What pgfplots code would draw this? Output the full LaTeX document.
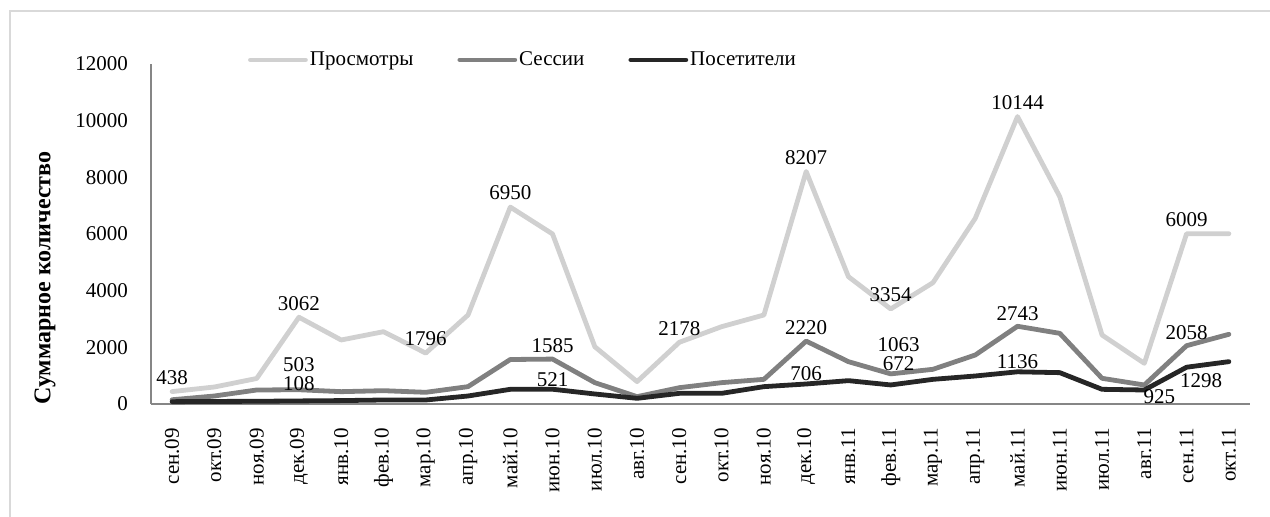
\documentclass[border=0pt]{standalone}
\usepackage{pgfplots}
\pgfplotsset{compat=1.18}
\usepackage{pgfplotstable}
\usepackage{fontspec}
\setmainfont{Liberation Serif}
\definecolor{cview}{RGB}{208,208,208}
\definecolor{csess}{RGB}{128,128,128}
\definecolor{cvis}{RGB}{38,38,38}
\definecolor{caxis}{RGB}{134,134,134}
\definecolor{cborder}{RGB}{217,217,217}

\pgfplotstableread{
x p pl s sl v vl
0 438 438 150 {} 82 {}
1 600 {} 282 {} 90 {}
2 900 {} 494 {} 95 {}
3 3062 3062 503 {} 108 {}
4 2259 {} 435 {} 120 {}
5 2552 {} 470 {} 141 {}
6 1796 1796 412 {} 141 {}
7 3141 {} 612 {} 282 {}
8 6950 6950 1570 {} 518 {}
9 6000 {} 1585 1585 521 521
10 2020 {} 753 {} 353 {}
11 790 {} 259 {} 200 {}
12 2178 2178 576 {} 376 {}
13 2729 {} 753 {} 376 {}
14 3141 {} 870 {} 612 {}
15 8207 8207 2220 2220 706 706
16 4493 {} 1494 {} 824 {}
17 3354 3354 1063 {} 672 {}
18 4282 {} 1224 {} 870 {}
19 6553 {} 1729 {} 988 {}
20 10144 10144 2743 2743 1136 1136
21 7316 {} 2494 {} 1106 {}
22 2435 {} 906 {} 518 {}
23 1435 {} 670 {} 494 {}
24 6009 6009 2058 2058 1298 {}
25 6009 {} 2459 {} 1494 {}
}\data

\begin{document}
\begin{tikzpicture}[font=\fontsize{10.5}{12.6}\selectfont]
\useasboundingbox (-75.5pt,-56.5pt) rectangle (559.5pt,202pt);
\draw[cborder, line width=0.9pt] (-70.5pt,-80pt) rectangle (562pt,196.5pt);
\begin{axis}[
  at={(0pt,0pt)}, anchor=south west,
  scale only axis,
  width=549.5pt, height=170pt,
  xmin=-0.5, xmax=25.5,
  ymin=0, ymax=12000,
  ytick={0,2000,4000,6000,8000,10000,12000},
  yticklabels={0,2000,4000,6000,8000,10000,12000},
  xtick={0,...,25},
  xticklabels={сен.09,окт.09,ноя.09,дек.09,янв.10,фев.10,мар.10,апр.10,май.10,июн.10,июл.10,авг.10,сен.10,окт.10,ноя.10,дек.10,янв.11,фев.11,мар.11,апр.11,май.11,июн.11,июл.11,авг.11,сен.11,окт.11},
  axis x line*=bottom, axis y line*=left,
  axis line style={caxis, line width=0.8pt, -},
  major tick length=0pt,
  xticklabel style={rotate=90, anchor=east, font=\fontsize{10.5}{12.6}\selectfont},
  xticklabel shift=8.5pt,
  yticklabel style={anchor=east, font=\fontsize{10.5}{12.6}\selectfont},
  yticklabel shift=8pt,
  /pgf/number format/assume math mode=true,
  /pgf/number format/1000 sep={},
  scaled y ticks=false,
  ylabel={\bfseries Суммарное количество},
  ylabel style={at={(axis description cs:-0.0965,0.37)}, anchor=center, font=\fontsize{12}{14}\selectfont},
  clip=false,
  legend style={at={(axis description cs:0.3385,1.012)}, anchor=center, draw=none, fill=none,
    legend columns=3, font=\fontsize{10.5}{12.6}\selectfont,
    /tikz/every odd column/.append style={column sep=0pt},
    /tikz/every even column/.append style={column sep=21pt},
    nodes={inner sep=1pt}},
  legend cell align=left,
  legend image code/.code={\draw[#1, line cap=round] (0pt,0pt) -- (27.5pt,0pt);},
  every axis plot/.append style={line width=2.4pt, line join=round, line cap=round, mark=none},
  nodes near coords,
  point meta=explicit symbolic,
  nodes near coords style={anchor=center, font=\fontsize{10.5}{12.6}\selectfont, text=black, inner sep=0pt},
]
\addplot[cview, nodes near coords style={yshift=7pt}] table[x=x, y=p, meta=pl] {\data};
\addlegendentry{Просмотры}
\addplot[csess, nodes near coords style={yshift=6.5pt}] table[x=x, y=s, meta=sl] {\data};
\addlegendentry{Сессии}
\addplot[cvis, nodes near coords style={yshift=5pt}] table[x=x, y=v, meta=vl] {\data};
\addlegendentry{Посетители}
% individually placed labels
\addplot[draw=none, forget plot, nodes near coords style={yshift=12.8pt}] coordinates {(3,503) [503]};
\addplot[draw=none, forget plot, nodes near coords style={yshift=14.5pt, xshift=4pt}] coordinates {(17,1063) [1063]};
\addplot[draw=none, forget plot, nodes near coords style={yshift=8.6pt}] coordinates {(3,108) [108]};
\addplot[draw=none, forget plot, nodes near coords style={yshift=10.5pt, xshift=4pt}] coordinates {(17,672) [672]};
\addplot[draw=none, forget plot, nodes near coords style={yshift=-3.4pt, xshift=7.5pt}] coordinates {(23,494) [925]};
\addplot[draw=none, forget plot, nodes near coords style={yshift=-6.8pt, xshift=7.3pt}] coordinates {(24,1298) [1298]};
\end{axis}
\end{tikzpicture}
\end{document}
